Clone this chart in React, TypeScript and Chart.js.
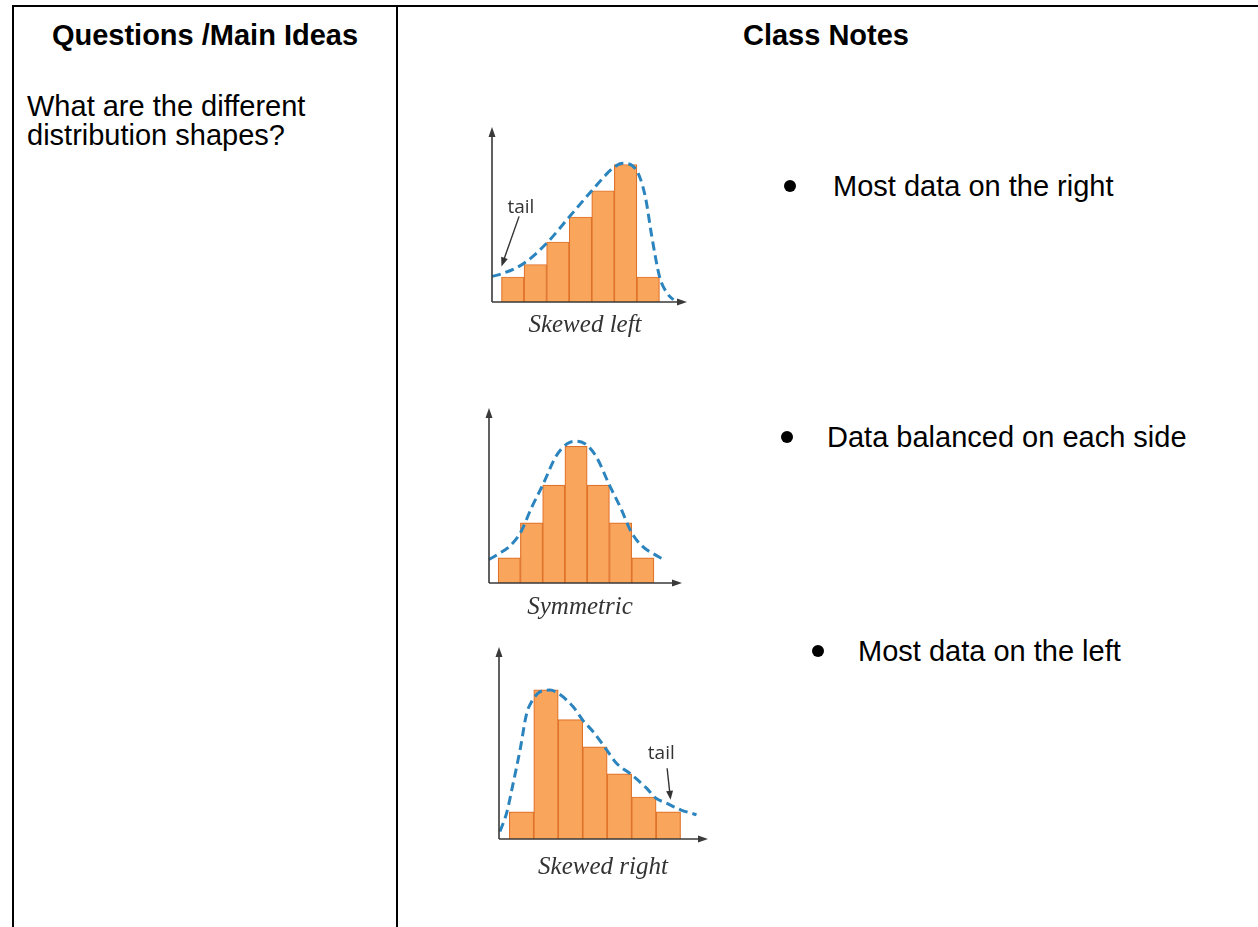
import React, { useEffect, useRef } from "react";
import { Chart, registerables } from "chart.js";

Chart.register(...registerables);

// ---------- data ----------
const binCenters = [1, 2, 3, 4, 5, 6, 7];

// Skewed left
const skewLeftFreq = [2, 3, 4.8, 6.8, 8.9, 11, 2];
const skewLeftCurveX = [0.08, 0.5, 1.5, 2.5, 3.5, 4.5, 5.5, 5.88, 6.46, 6.87, 7.16, 7.5, 7.83, 8.12];
const skewLeftCurveY = [2.05, 2.25, 3.1, 4.7, 6.8, 8.9, 10.8, 11.1, 10.6, 8.45, 5.25, 2.05, 0.72, 0.18];
const skewLeftTailLabel = [1.36, 7.54];
const skewLeftTailArrow = [1.28, 6.85, 0.5, 2.85];

// Symmetric
const symmetricFreq = [2, 4.8, 7.8, 10.9, 7.8, 4.8, 2];
const symmetricCurveX = [0.09, 0.5, 1.0, 1.5, 2.0, 2.5, 3.1, 3.6, 4.0, 4.4, 4.9, 5.5, 6.0, 6.5, 7.0, 7.5, 7.93];
const symmetricCurveY = [1.87, 2.3, 2.9, 4.0, 6.0, 7.8, 10.1, 11.1, 11.3, 11.1, 10.1, 7.8, 6.0, 4.0, 2.9, 2.3, 1.87];

// Skewed right
const skewRightFreq = [2, 11, 8.8, 6.8, 4.8, 3.1, 2];
const skewRightCurveX = [0.12, 0.39, 0.66, 0.94, 1.21, 1.41, 1.75, 2.16, 2.5, 3.11, 3.5, 3.93, 4.48, 4.88, 5.5, 6.11, 6.49, 6.92, 7.5, 8.15];
const skewRightCurveY = [0.56, 1.91, 4.12, 6.57, 9.26, 10.12, 10.85, 10.98, 10.74, 9.75, 8.77, 7.91, 6.57, 5.59, 4.73, 3.75, 3.01, 2.65, 2.15, 1.79];
const skewRightTailLabel = [6.71, 6.27];
const skewRightTailArrow = [6.95, 5.22, 7.09, 2.89];

// Axis extents (data units): xMin, xMax, yMax
const skewLeftRange = [0.08, 8.72, 14];
const symmetricRange = [0.09, 8.76, 13.95];
const skewRightRange = [0.08, 8.62, 14.16];

// ---------- styles ----------
const ORANGE = "#f9a65c";
const ORANGE_EDGE = "#e0722a";
const BLUE = "#2b84bd";
const AXIS = "#3a3a3a";
const PAD = 12;

const axesPlugin = {
  id: "arrowAxes",
  afterDatasetsDraw(chart: any) {
    const { ctx, chartArea } = chart;
    const { left, right, top, bottom } = chartArea;
    ctx.save();
    ctx.strokeStyle = AXIS;
    ctx.fillStyle = AXIS;
    ctx.lineWidth = 1.6;
    ctx.beginPath();
    ctx.moveTo(left, bottom);
    ctx.lineTo(left, top + 6);
    ctx.moveTo(left, bottom);
    ctx.lineTo(right - 6, bottom);
    ctx.stroke();
    ctx.beginPath();
    ctx.moveTo(left, top);
    ctx.lineTo(left - 3.5, top + 10);
    ctx.lineTo(left + 3.5, top + 10);
    ctx.closePath();
    ctx.fill();
    ctx.beginPath();
    ctx.moveTo(right, bottom);
    ctx.lineTo(right - 10, bottom - 3.5);
    ctx.lineTo(right - 10, bottom + 3.5);
    ctx.closePath();
    ctx.fill();

    const tail = chart.options.plugins.tailNote;
    if (tail && tail.label) {
      const xs = chart.scales.x;
      const ys = chart.scales.y;
      ctx.font = '19px "Open Sans", "Liberation Sans", sans-serif';
      ctx.textAlign = "center";
      ctx.textBaseline = "middle";
      ctx.fillStyle = "#333";
      ctx.fillText("tail", xs.getPixelForValue(tail.label[0]), ys.getPixelForValue(tail.label[1]));
      const x1 = xs.getPixelForValue(tail.arrow[0]);
      const y1 = ys.getPixelForValue(tail.arrow[1]);
      const x2 = xs.getPixelForValue(tail.arrow[2]);
      const y2 = ys.getPixelForValue(tail.arrow[3]);
      const ang = Math.atan2(y2 - y1, x2 - x1);
      ctx.strokeStyle = "#333";
      ctx.lineWidth = 1.4;
      ctx.beginPath();
      ctx.moveTo(x1, y1);
      ctx.lineTo(x2 - Math.cos(ang) * 6, y2 - Math.sin(ang) * 6);
      ctx.stroke();
      ctx.beginPath();
      ctx.moveTo(x2, y2);
      ctx.lineTo(x2 - Math.cos(ang) * 9 + Math.sin(ang) * 3.5, y2 - Math.sin(ang) * 9 - Math.cos(ang) * 3.5);
      ctx.lineTo(x2 - Math.cos(ang) * 9 - Math.sin(ang) * 3.5, y2 - Math.sin(ang) * 9 + Math.cos(ang) * 3.5);
      ctx.closePath();
      ctx.fillStyle = "#333";
      ctx.fill();
    }
    ctx.restore();
  },
};

type HistProps = {
  left: number;
  top: number;
  plotW: number;
  plotH: number;
  range: number[];
  freq: number[];
  curveX: number[];
  curveY: number[];
  tailLabel?: number[];
  tailArrow?: number[];
};

function Histogram(p: HistProps) {
  const ref = useRef<HTMLCanvasElement>(null);
  const w = p.plotW + PAD * 2;
  const h = p.plotH + PAD * 2;
  useEffect(() => {
    if (!ref.current) return;
    const chart = new Chart(ref.current, {
      type: "bar",
      data: {
        datasets: [
          {
            type: "line",
            data: p.curveX.map((x, i) => ({ x, y: p.curveY[i] })),
            borderColor: BLUE,
            borderWidth: 3,
            borderDash: [9, 5],
            pointRadius: 0,
            cubicInterpolationMode: "monotone",
            fill: false,
            order: 0,
            clip: false,
          } as any,
          {
            type: "bar",
            data: binCenters.map((x, i) => ({ x, y: p.freq[i] })),
            backgroundColor: ORANGE,
            borderColor: ORANGE_EDGE,
            borderWidth: 1.2,
            borderSkipped: "bottom",
            barPercentage: 1,
            categoryPercentage: 1,
            order: 1,
          } as any,
        ],
      },
      options: {
        animation: false,
        responsive: false,
        maintainAspectRatio: false,
        events: [],
        layout: { padding: PAD },
        plugins: {
          legend: { display: false },
          tooltip: { enabled: false },
          tailNote: { label: p.tailLabel, arrow: p.tailArrow },
        } as any,
        scales: {
          x: {
            type: "linear",
            min: p.range[0],
            max: p.range[1],
            offset: false,
            display: false,
            grid: { offset: false },
            ticks: { stepSize: 1, includeBounds: false },
          },
          y: { type: "linear", min: 0, max: p.range[2], display: false },
        },
      },
      plugins: [axesPlugin],
    });
    return () => chart.destroy();
  }, []);
  return (
    <canvas
      ref={ref}
      width={w}
      height={h}
      style={{ position: "absolute", left: p.left - PAD, top: p.top - PAD, width: w, height: h }}
    />
  );
}

const SANS = '"Liberation Sans", Arial, sans-serif';
const SERIF = '"Liberation Serif", "Times New Roman", serif';

function Bullet({ bx, tx, cy, text }: { bx: number; tx: number; cy: number; text: string }) {
  return (
    <>
      <div
        style={{
          position: "absolute",
          left: bx - 6,
          top: cy - 6,
          width: 12,
          height: 12,
          borderRadius: 6,
          background: "#000",
        }}
      />
      <div
        style={{
          position: "absolute",
          left: tx,
          top: cy - 17,
          height: 34,
          lineHeight: "34px",
          fontSize: 29,
          whiteSpace: "nowrap",
        }}
      >
        {text}
      </div>
    </>
  );
}

function Caption({ cx, cy, text }: { cx: number; cy: number; text: string }) {
  return (
    <div
      style={{
        position: "absolute",
        left: cx - 100,
        width: 200,
        top: cy - 15,
        height: 30,
        lineHeight: "30px",
        textAlign: "center",
        fontFamily: SERIF,
        fontStyle: "italic",
        fontSize: 25,
        color: "#333",
      }}
    >
      {text}
    </div>
  );
}

export default function App() {
  return (
    <div
      style={{
        position: "absolute",
        left: 0,
        top: 0,
        width: 1258,
        height: 927,
        overflow: "hidden",
        background: "#fff",
        fontFamily: SANS,
        color: "#000",
      }}
    >
      {/* table frame */}
      <div
        style={{
          position: "absolute",
          left: 12,
          top: 5,
          width: 1400,
          height: 1100,
          border: "2px solid #000",
          boxSizing: "border-box",
        }}
      />
      <div style={{ position: "absolute", left: 396, top: 5, width: 2, height: 1000, background: "#000" }} />

      {/* headers */}
      <div
        style={{
          position: "absolute",
          left: 14,
          width: 382,
          top: 18,
          lineHeight: "34px",
          fontSize: 29,
          fontWeight: "bold",
          textAlign: "center",
        }}
      >
        Questions /Main Ideas
      </div>
      <div
        style={{
          position: "absolute",
          left: 398,
          width: 856,
          top: 18,
          lineHeight: "34px",
          fontSize: 29,
          fontWeight: "bold",
          textAlign: "center",
        }}
      >
        Class Notes
      </div>

      {/* left column */}
      <div
        style={{
          position: "absolute",
          left: 27,
          top: 92,
          width: 360,
          fontSize: 29,
          lineHeight: "29px",
        }}
      >
        What are the different
        <br />
        distribution shapes?
      </div>

      {/* charts */}
      <Histogram
        left={492}
        top={127}
        plotW={195}
        plotH={175}
        range={skewLeftRange}
        freq={skewLeftFreq}
        curveX={skewLeftCurveX}
        curveY={skewLeftCurveY}
        tailLabel={skewLeftTailLabel}
        tailArrow={skewLeftTailArrow}
      />
      <Caption cx={585} cy={324} text="Skewed left" />

      <Histogram
        left={489}
        top={408}
        plotW={193}
        plotH={175}
        range={symmetricRange}
        freq={symmetricFreq}
        curveX={symmetricCurveX}
        curveY={symmetricCurveY}
      />
      <Caption cx={580} cy={606} text="Symmetric" />

      <Histogram
        left={499}
        top={647}
        plotW={209}
        plotH={192}
        range={skewRightRange}
        freq={skewRightFreq}
        curveX={skewRightCurveX}
        curveY={skewRightCurveY}
        tailLabel={skewRightTailLabel}
        tailArrow={skewRightTailArrow}
      />
      <Caption cx={603} cy={866} text="Skewed right" />

      {/* notes */}
      <Bullet bx={790} tx={833} cy={186} text="Most data on the right" />
      <Bullet bx={787} tx={827} cy={437} text="Data balanced on each side" />
      <Bullet bx={818} tx={858} cy={651} text="Most data on the left" />
    </div>
  );
}
